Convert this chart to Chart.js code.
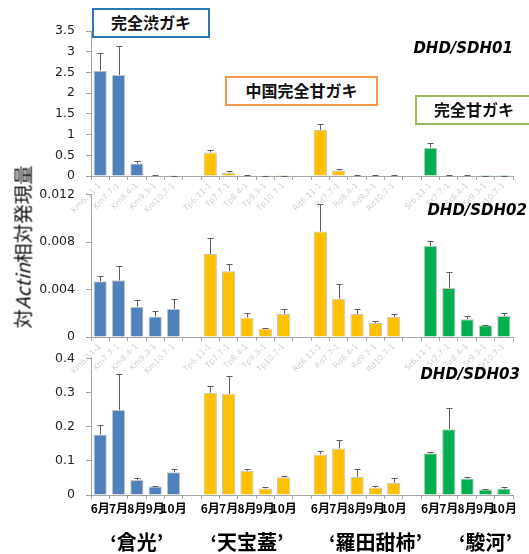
<!DOCTYPE html>
<html lang="ja">
<head>
<meta charset="utf-8">
<script src="https://cdn.jsdelivr.net/npm/chart.js@4.4.1/dist/chart.umd.min.js"></script>
<style>
  body { margin: 0; background: #fff; }
  #wrap { position: relative; width: 529px; height: 554px; overflow: hidden; }
  canvas { position: absolute; left: 0; }
  .box { position: absolute; z-index: 5; background: #fff; border: 2.5px solid; box-sizing: border-box;
         font-family: 'Noto Sans CJK JP', sans-serif; font-weight: bold; font-size: 16px; line-height: 24px;
         text-align: center; color: #111; white-space: nowrap; }
  .gene { position: absolute; z-index: 5; font-family: 'DejaVu Sans', sans-serif; font-weight: bold;
          font-style: italic; font-size: 15px; line-height: 18px; color: #000; }
  #ytitle { position: absolute; z-index: 5; left: 22px; top: 247px; transform: translate(-50%, -50%) rotate(-90deg);
            font-family: 'Noto Sans CJK JP', sans-serif; font-size: 19.5px; white-space: nowrap; color: #111; }
</style>
</head>
<body>
<div id="wrap">
  <canvas id="c1" width="529" height="232" style="top:0px"></canvas>
  <canvas id="c2" width="529" height="214" style="top:176px"></canvas>
  <canvas id="c3" width="529" height="214" style="top:340px"></canvas>

  <div class="box" style="left:92px;top:8px;width:118px;height:30px;border-color:#2e75b6">完全渋ガキ</div>
  <div class="box" style="left:225px;top:76px;width:153px;height:30px;border-color:#f79646">中国完全甘ガキ</div>
  <div class="box" style="left:415px;top:95px;width:118px;height:30px;border-color:#9bbb59">完全甘ガキ</div>

  <div class="gene" style="right:16px;top:39px">DHD/SDH01</div>
  <div class="gene" style="right:2px;top:201px">DHD/SDH02</div>
  <div class="gene" style="right:9px;top:365px">DHD/SDH03</div>

  <div id="ytitle">対<i>Actin</i>相対発現量</div>
</div>

<script>
// categories
const months = ['6月', '7月', '8月', '9月', '10月'];
const cultivars = ['‘倉光’', '‘天宝蓋’', '‘羅田甜柿’', '‘駿河’'];
const sampleCodes = [
    ['Km6.11-1', 'Km7.7-1', 'Km8.4-1', 'Km9.3-1', 'Km10.7-1'],
    ['Tp6.11-1', 'Tp7.7-1', 'Tp8.4-1', 'Tp9.3-1', 'Tp10.7-1'],
    ['Rd6.11-1', 'Rd7.7-1', 'Rd8.4-1', 'Rd9.3-1', 'Rd10.7-1'],
    ['Sr6.11-1', 'Sr7.7-1', 'Sr8.4-1', 'Sr9.3-1', 'Sr10.7-1']
];
const groupColors = ['#4f81bd', '#ffc000', '#ffc000', '#00b050'];

// DHD/SDH01 (one row per cultivar, 6月..10月)
const sdh01 = [
    [2.54, 2.44, 0.30, 0.012, 0.004],
    [0.57, 0.08, 0.012, 0.004, 0.003],
    [1.11, 0.13, 0.02, 0.01, 0.008],
    [0.68, 0.012, 0.012, 0.003, 0.002]
];
const sdh01Err = [
    [0.42, 0.71, 0.06, 0.005, 0.002],
    [0.06, 0.03, 0.004, 0.002, 0.002],
    [0.14, 0.03, 0.005, 0.003, 0.006],
    [0.11, 0.003, 0.003, 0.001, 0.001]
];

// DHD/SDH02
const sdh02 = [
    [0.0047, 0.00477, 0.00255, 0.00172, 0.00236],
    [0.00698, 0.00554, 0.00164, 0.00072, 0.00194],
    [0.00888, 0.00323, 0.00194, 0.00117, 0.0017],
    [0.00768, 0.00413, 0.0015, 0.00099, 0.00176]
];
const sdh02Err = [
    [0.00045, 0.00117, 0.00053, 0.00043, 0.0008],
    [0.00138, 0.00064, 0.00038, 0.00008, 0.00046],
    [0.0023, 0.00125, 0.00046, 0.00016, 0.00022],
    [0.00037, 0.00137, 0.00026, 0.00005, 0.00024]
];

// DHD/SDH03
const sdh03 = [
    [0.177, 0.249, 0.044, 0.025, 0.067],
    [0.300, 0.297, 0.071, 0.019, 0.052],
    [0.119, 0.136, 0.053, 0.022, 0.036],
    [0.122, 0.193, 0.048, 0.016, 0.019]
];
const sdh03Err = [
    [0.029, 0.106, 0.006, 0.0025, 0.01],
    [0.018, 0.051, 0.006, 0.003, 0.003],
    [0.010, 0.025, 0.022, 0.003, 0.014],
    [0.005, 0.062, 0.004, 0.001, 0.004]
];

// y axis ticks: min, max, step
const sdh01Ticks = [0, 3.5, 0.5];
const sdh02Ticks = [0, 0.012, 0.004];
const sdh03Ticks = [0, 0.4, 0.1];

// 5 bars per cultivar with one empty slot between cultivars
function spread(groups, blank) {
    const out = [];
    groups.forEach((g, i) => {
        if (i > 0) out.push(blank);
        g.forEach(v => out.push(v));
    });
    return out;
}

const slotLabels = spread(sampleCodes, '');
const slotColors = spread(sampleCodes.map((g, i) => g.map(() => groupColors[i])), null);
const monthSlots = spread(cultivars.map(() => months), '');
// cultivar names sit under their month groups
const nameSlots = slotLabels.map(() => '');
[2, 8, 15, 21].forEach((s, i) => { nameSlots[s] = cultivars[i]; });

Chart.defaults.font.family = "'DejaVu Sans', sans-serif";

const errorBars = {
    id: 'errorBars',
    afterDatasetsDraw(chart) {
        const ds = chart.data.datasets[0];
        const y = chart.scales.y;
        const ctx = chart.ctx;
        ctx.save();
        ctx.strokeStyle = '#5f5f5f';
        ctx.lineWidth = 1;
        chart.getDatasetMeta(0).data.forEach((bar, i) => {
            if (ds.data[i] == null) return;
            const top = Math.round(y.getPixelForValue(ds.data[i] + ds.errors[i])) + 0.5;
            const x = Math.round(bar.x) + 0.5;
            ctx.beginPath();
            ctx.moveTo(x, bar.y);
            ctx.lineTo(x, top);
            ctx.moveTo(x - 3, top);
            ctx.lineTo(x + 3, top);
            ctx.stroke();
        });
        ctx.restore();
    }
};

const axisGray = '#a6a6a6';

function codeAxis(height) {
    return {
        type: 'category',
        offset: true,
        grid: { offset: true, drawOnChartArea: false, tickLength: 4, color: axisGray },
        border: { color: axisGray },
        ticks: { autoSkip: false, minRotation: 45, maxRotation: 45, padding: 1, color: '#d2d2d2', font: { size: 8 } },
        afterFit: s => { s.height = height; }
    };
}

// plain text label axis under panel 3
function textAxis(labels, height, padding, size) {
    return {
        type: 'category',
        labels: labels,
        position: 'bottom',
        offset: true,
        grid: { display: false, drawTicks: false },
        border: { display: false },
        ticks: { autoSkip: false, minRotation: 0, maxRotation: 0, padding: padding, color: '#000',
                 font: { family: "'Noto Sans CJK JP', sans-serif", size: size, weight: 'bold' } },
        afterFit: s => { s.height = height; }
    };
}

function drawPanel(id, vals, errs, yTicks, padTop, xScales) {
    const ctx = document.getElementById(id).getContext('2d');
    return new Chart(ctx, {
        type: 'bar',
        data: {
            labels: slotLabels,
            datasets: [{
                data: spread(vals, null),
                errors: spread(errs, null),
                backgroundColor: slotColors,
                borderColor: '#c4c4c4',
                borderWidth: 1,
                barPercentage: 0.72,
                categoryPercentage: 1
            }]
        },
        options: {
            responsive: false,
            animation: false,
            layout: { padding: { top: padTop, right: 16, left: 0, bottom: 0 } },
            plugins: { legend: { display: false }, tooltip: { enabled: false } },
            scales: Object.assign({}, xScales, {
                y: {
                    min: yTicks[0],
                    max: yTicks[1],
                    ticks: {
                        stepSize: yTicks[2], padding: 11, color: '#222', font: { size: 12.5 },
                        callback: v => String(Number(v.toFixed(3)))
                    },
                    grid: { drawOnChartArea: false, tickLength: 5, color: axisGray },
                    border: { color: axisGray },
                    afterFit: s => { s.width = 91; }
                }
            })
        },
        plugins: [errorBars]
    });
}

drawPanel('c1', sdh01, sdh01Err, sdh01Ticks, 31, { x: codeAxis(56) });
drawPanel('c2', sdh02, sdh02Err, sdh02Ticks, 10, { x: codeAxis(53) });
drawPanel('c3', sdh03, sdh03Err, sdh03Ticks, 10, {
    x: codeAxis(5),
    xm: textAxis(monthSlots, 16, 1, 12),
    xn: textAxis(nameSlots, 38, 14, 20)
});
</script>
</body>
</html>
